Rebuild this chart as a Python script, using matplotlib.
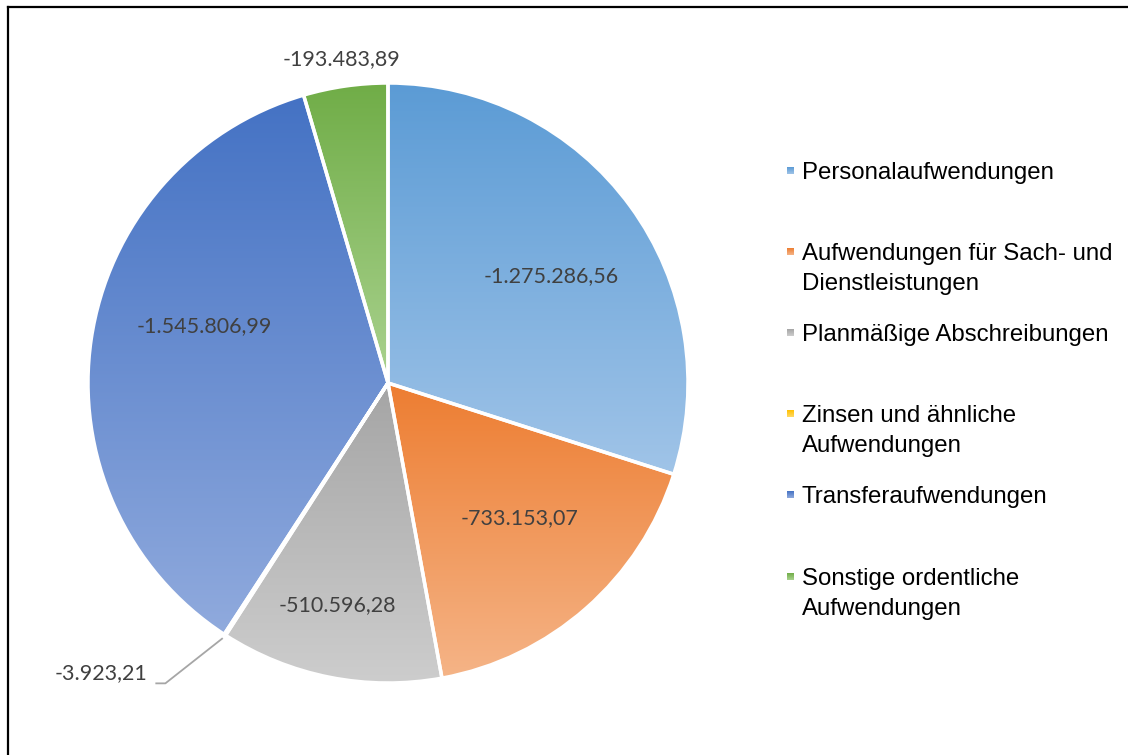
import numpy as np
import matplotlib.pyplot as plt
from matplotlib.patches import Wedge
from matplotlib.lines import Line2D
from matplotlib.colors import to_rgb

# data
categories = [
    "Personalaufwendungen",
    "Aufwendungen für Sach- und\nDienstleistungen",
    "Planmäßige Abschreibungen",
    "Zinsen und ähnliche\nAufwendungen",
    "Transferaufwendungen",
    "Sonstige ordentliche\nAufwendungen",
]
values = [1275286.56, 733153.07, 510596.28, 3923.21, 1545806.99, 193483.89]
value_labels = ["-1.275.286,56", "-733.153,07", "-510.596,28",
                "-3.923,21", "-1.545.806,99", "-193.483,89"]

# top / bottom gradient colours per slice
top_colors = ["#5B9BD5", "#ED7D31", "#A5A5A5", "#FFC000", "#4472C4", "#70AD47"]
bot_colors = ["#A0C4E8", "#F5B487", "#CDCDCD", "#FFDA66", "#90AADD", "#AAD28F"]

# label placement: (radius factor, angle tweak in degrees)
label_pos = [(0.65, -3), (0.63, 3), (0.76, -1.5), (1.36, -11.7), (0.64, -9), (1.09, 0)]

W, H = 1128, 755
fig = plt.figure(figsize=(W / 100, H / 100), dpi=100)
ax = fig.add_axes([0, 0, 1, 1])

cx, cy, R = 388, H - 383, 300
wedges, _ = ax.pie(values, startangle=90, counterclock=False, radius=R,
                   center=(cx, cy), colors=top_colors,
                   wedgeprops=dict(linewidth=0))


def gradient(c_top, c_bot, n=256):
    t = np.linspace(0, 1, n)[:, None]
    a, b = np.array(to_rgb(c_top)), np.array(to_rgb(c_bot))
    # row 0 is the bottom (origin='lower')
    return (b * (1 - t) + a * t)[:, None, :]


for w, ct, cb in zip(wedges, top_colors, bot_colors):
    ext = w.get_path().get_extents()
    im = ax.imshow(gradient(ct, cb), origin="lower", aspect="auto",
                   extent=(ext.x0, ext.x1, ext.y0, ext.y1),
                   interpolation="bilinear", zorder=2)
    im.set_clip_path(w)
    ax.add_patch(Wedge(w.center, w.r, w.theta1, w.theta2, fill=False,
                       edgecolor="white", linewidth=2.5, zorder=3))

ax.set_xlim(0, W)
ax.set_ylim(0, H)
ax.set_aspect("equal")
ax.axis("off")

# data labels
lab_font = dict(family=["Lato", "DejaVu Sans"], fontsize=15.5, color="#404040")
for i, (w, txt) in enumerate(zip(wedges, value_labels)):
    mid = np.radians((w.theta1 + w.theta2) / 2 + label_pos[i][1])
    f = label_pos[i][0]
    x, y = cx + f * R * np.cos(mid), cy + f * R * np.sin(mid)
    ax.text(x, y, txt, ha="center", va="center", zorder=5, **lab_font)
    if f > 1.2:
        # leader line for the tiny slice
        m = np.radians((w.theta1 + w.theta2) / 2)
        ex, ey = cx + (R + 4) * np.cos(m), cy + (R + 4) * np.sin(m)
        ax.plot([ex, x + 64, x + 54], [ey, y - 10, y - 10],
                color="#A6A6A6", lw=1.3, zorder=4, solid_capstyle="butt")

# legend drawn by hand
leg_y = [171, 252, 333, 414, 495, 577]
for lbl, y, ct, cb in zip(categories, leg_y, top_colors, bot_colors):
    yy = H - y
    ax.imshow(gradient(ct, cb), origin="lower", aspect="auto",
              extent=(787, 794, yy - 3.5, yy + 3.5), zorder=4)
    for k, line in enumerate(lbl.split("\n")):
        ax.text(802, yy - 2 - 30 * k, line, ha="left", va="center",
                fontsize=17.3, family="Liberation Sans", color="#000000",
                zorder=5)

ax.set_xlim(0, W)
ax.set_ylim(0, H)

# outer frame (only top and left are visible)
fig.add_artist(Line2D([7.5 / W, 1], [1 - 6.5 / H, 1 - 6.5 / H],
                      transform=fig.transFigure, color="black", lw=1.6))
fig.add_artist(Line2D([7.5 / W, 7.5 / W], [0, 1 - 6.5 / H],
                      transform=fig.transFigure, color="black", lw=1.6))

fig.savefig("out.png", dpi=100, facecolor="white")
